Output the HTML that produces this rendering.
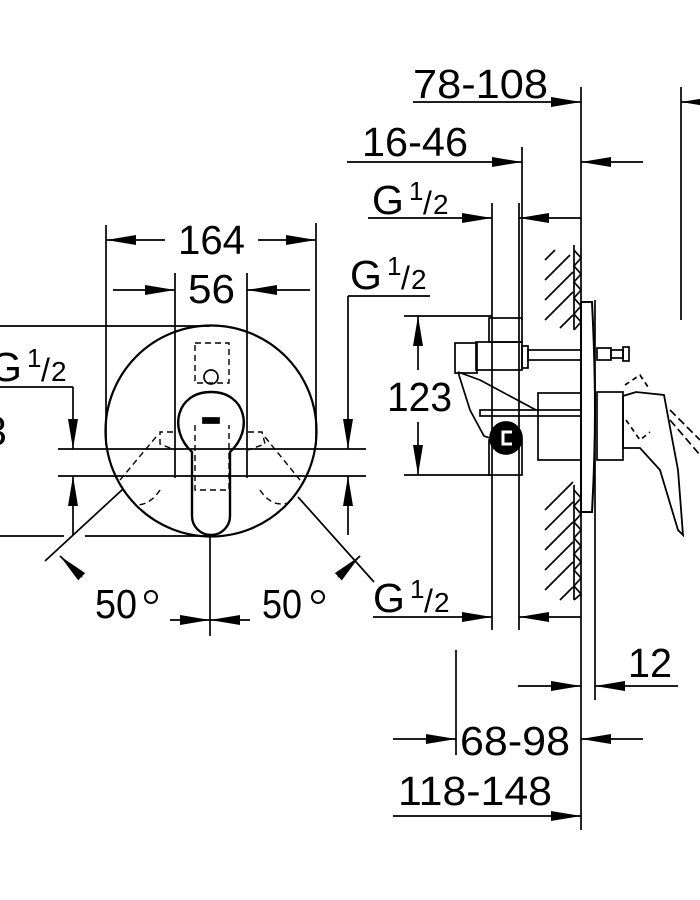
<!DOCTYPE html>
<html><head><meta charset="utf-8"><style>
html,body{margin:0;padding:0;background:#fff}
svg{display:block}
text{font-family:"Liberation Sans",sans-serif;fill:#000}
</style></head><body>
<svg width="700" height="900" viewBox="0 0 700 900" xmlns="http://www.w3.org/2000/svg">
<defs>
<marker id="a" viewBox="0 0 30 10" refX="30" refY="5" markerWidth="30" markerHeight="10" markerUnits="userSpaceOnUse" orient="auto"><path d="M0,0 L30,5 L0,10 Z" fill="#000"/></marker>
</defs>
<g stroke="#000" stroke-width="1.7" fill="none">
<!-- LEFT VIEW -->
<line x1="106" y1="225" x2="106" y2="445"/>
<line x1="316" y1="223" x2="316" y2="445"/>
<line x1="165" y1="240" x2="106" y2="240" marker-end="url(#a)"/>
<line x1="258" y1="240" x2="316" y2="240" marker-end="url(#a)"/>
<line x1="175" y1="273" x2="175" y2="478"/>
<line x1="247" y1="273" x2="247" y2="478"/>
<line x1="113" y1="290" x2="175" y2="290" marker-end="url(#a)"/>
<line x1="310" y1="290" x2="247" y2="290" marker-end="url(#a)"/>
<line x1="0" y1="326" x2="210" y2="326"/>
<line x1="0" y1="536" x2="64" y2="536"/>
<line x1="85" y1="536" x2="210" y2="536"/>
<circle cx="211" cy="431" r="105.5" stroke-width="2.2"/>
<line x1="0" y1="387" x2="73" y2="387"/>
<line x1="73" y1="387" x2="73" y2="449" marker-end="url(#a)"/>
<line x1="73" y1="535" x2="73" y2="476" marker-end="url(#a)"/>
<line x1="58" y1="449" x2="366" y2="449"/>
<line x1="58" y1="476" x2="366" y2="476"/>
<line x1="348" y1="296" x2="430" y2="296"/>
<line x1="348" y1="296" x2="348" y2="449" marker-end="url(#a)"/>
<line x1="348" y1="535" x2="348" y2="476" marker-end="url(#a)"/>
<line x1="123" y1="489" x2="45" y2="561"/>
<line x1="298" y1="497" x2="374" y2="582"/>
<line x1="82" y1="577" x2="60" y2="556" marker-end="url(#a)"/>
<line x1="338" y1="577" x2="360" y2="556" marker-end="url(#a)"/>
<line x1="210" y1="536" x2="210" y2="636"/>
<line x1="170" y1="620" x2="210" y2="620" marker-end="url(#a)"/>
<line x1="250" y1="620" x2="210" y2="620" marker-end="url(#a)"/>
<path d="M192,452 C168,430 176,392 211,392 C246,392 254,430 230,452 L230,516 A19,19 0 0 1 192,516 Z" stroke-width="2.4"/>
<g stroke-dasharray="6,4" stroke-width="1.4">
<rect x="195" y="343" width="34" height="40"/>
<path d="M195,425 L195,490 L229,490 L229,425"/>
<path d="M173,432 L160,432 L160,444 L175,450 M248,432 L262,432 L265,444 L248,450"/>
<path d="M156,437 L120,480 M265,437 L300,480 M160,490 C150,505 140,505 135,505 M260,490 C270,505 280,505 288,503"/>
</g>
<circle cx="211" cy="377" r="7"/>
<rect x="203" y="418" width="16" height="5" fill="#000"/>
<circle cx="151" cy="597" r="6" stroke-width="2"/>
<circle cx="318" cy="597" r="6" stroke-width="2"/>
<!-- RIGHT VIEW -->
<line x1="581" y1="87" x2="581" y2="830"/>
<line x1="681" y1="87" x2="681" y2="320"/>
<line x1="413" y1="102" x2="581" y2="102" marker-end="url(#a)"/>
<line x1="700" y1="102" x2="681" y2="102" marker-end="url(#a)"/>
<line x1="522" y1="147" x2="522" y2="320"/>
<line x1="347" y1="162" x2="522" y2="162" marker-end="url(#a)"/>
<line x1="643" y1="162" x2="581" y2="162" marker-end="url(#a)"/>
<line x1="492" y1="203" x2="492" y2="630"/>
<line x1="519" y1="203" x2="519" y2="630"/>
<line x1="368" y1="218" x2="492" y2="218" marker-end="url(#a)"/>
<line x1="581" y1="218" x2="519" y2="218" marker-end="url(#a)"/>
<line x1="404" y1="316" x2="492" y2="316"/>
<line x1="404" y1="475" x2="492" y2="475"/>
<line x1="418" y1="370" x2="418" y2="316" marker-end="url(#a)"/>
<line x1="418" y1="422" x2="418" y2="475" marker-end="url(#a)"/>
<line x1="373" y1="617" x2="492" y2="617" marker-end="url(#a)"/>
<line x1="581" y1="617" x2="519" y2="617" marker-end="url(#a)"/>
<line x1="595" y1="300" x2="595" y2="700"/>
<line x1="518" y1="686" x2="581" y2="686" marker-end="url(#a)"/>
<line x1="678" y1="686" x2="595" y2="686" marker-end="url(#a)"/>
<line x1="456" y1="650" x2="456" y2="755"/>
<line x1="393" y1="739" x2="456" y2="739" marker-end="url(#a)"/>
<line x1="643" y1="739" x2="581" y2="739" marker-end="url(#a)"/>
<line x1="393" y1="816" x2="581" y2="816" marker-end="url(#a)"/>
<!-- wall hatch -->
<line x1="574" y1="245" x2="574" y2="330"/>
<line x1="574" y1="485" x2="574" y2="600"/>
<path d="M545,260 L555,250 M545,280 L570,255 M545,300 L573,272 M545,320 L573,292 M560,328 L573,315 M545,510 L573,482 M545,530 L573,502 M545,550 L573,522 M545,570 L573,542 M545,590 L573,562 M560,600 L573,587"/>
<path d="M574,250 L581,258 L574,266 L581,274 L574,282 L581,290 L574,298 L581,306 L574,314 L581,322 L574,330 M574,490 L581,498 L574,506 L581,514 L574,522 L581,530 L574,538 L581,546 L574,554 L581,562 L574,570 L581,578 L574,586 L581,594 L574,600"/>
<!-- cover plate -->
<path d="M581,302 L592,302 C596,380 596,440 592,512 L581,512 Z" stroke-width="2"/>
<!-- fitting -->
<rect x="489" y="318" width="33" height="24"/>
<rect x="476" y="342" width="46" height="28"/>
<rect x="455" y="343" width="22" height="30"/>
<rect x="522" y="346" width="6" height="22"/>
<rect x="528" y="350" width="53" height="10"/>
<rect x="597" y="348" width="14" height="12"/>
<rect x="611" y="350" width="12" height="8"/>
<rect x="623" y="347" width="6" height="14"/>
<path d="M458,372 L470,410 L484,436 L496,440 M458,372 L480,380 L536,410"/>
<rect x="480" y="410" width="101" height="6"/>
<rect x="489" y="440" width="33" height="35"/>
<circle cx="506" cy="438" r="16" fill="#000"/>
<path d="M512,432 L503,432 L503,444 L512,444" stroke="#fff" stroke-width="3"/>
<rect x="538" y="393" width="43" height="67"/>
<rect x="597" y="392" width="26" height="68"/>
<!-- handle -->
<path d="M623,396 L636,392 L664,395 L672,438 L678,470 L683,535 L678,530 L660,470 L640,448 L623,448 Z" stroke-width="1.8"/>
<path d="M625,385 L640,375 L650,390 M626,420 L640,440 L650,432" stroke-dasharray="5,4"/>
<path d="M670,410 L700,440 M670,420 L700,455" stroke-dasharray="8,4"/>
</g>
<g font-size="41">
<text x="413" y="98" textLength="135" lengthAdjust="spacingAndGlyphs">78-108</text>
<text x="362" y="156" textLength="106" lengthAdjust="spacingAndGlyphs">16-46</text>
<text x="178" y="254" textLength="67" lengthAdjust="spacingAndGlyphs">164</text>
<text x="188" y="303" textLength="47" lengthAdjust="spacingAndGlyphs">56</text>
<text x="387" y="411" textLength="65" lengthAdjust="spacingAndGlyphs">123</text>
<text x="628" y="677" textLength="44" lengthAdjust="spacingAndGlyphs">12</text>
<text x="460" y="755" textLength="110" lengthAdjust="spacingAndGlyphs">68-98</text>
<text x="398" y="805" textLength="154" lengthAdjust="spacingAndGlyphs">118-148</text>
<text x="95" y="618" textLength="42" lengthAdjust="spacingAndGlyphs">50</text>
<text x="262" y="618" textLength="40" lengthAdjust="spacingAndGlyphs">50</text>
<text x="-16" y="445">3</text>
</g>
<g font-size="41">
<text x="372" y="214">G</text><text x="409" y="200" font-size="26">1</text><text x="423" y="214" font-size="32">/</text><text x="433" y="214" font-size="28">2</text>
<text x="350" y="289">G</text><text x="387" y="275" font-size="26">1</text><text x="401" y="289" font-size="32">/</text><text x="411" y="289" font-size="28">2</text>
<text x="-10" y="381">G</text><text x="27" y="367" font-size="26">1</text><text x="41" y="381" font-size="32">/</text><text x="51" y="381" font-size="28">2</text>
<text x="373" y="612">G</text><text x="410" y="598" font-size="26">1</text><text x="424" y="612" font-size="32">/</text><text x="434" y="612" font-size="28">2</text>
</g>
</svg>
</body></html>
